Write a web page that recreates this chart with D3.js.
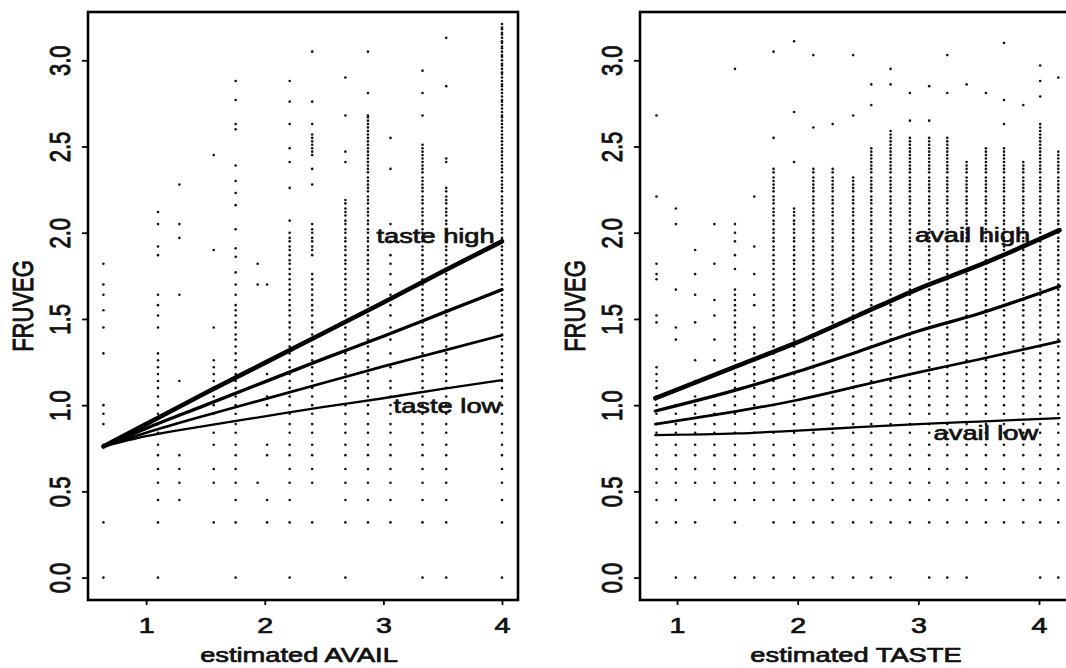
<!DOCTYPE html>
<html>
<head>
<meta charset="utf-8">
<script src="https://cdn.jsdelivr.net/npm/d3@7"></script>
<style>
  html, body { margin: 0; padding: 0; background: #fff; }
  svg { display: block; overflow: hidden; }
  text { font-family: "Liberation Sans", Arial, Helvetica, sans-serif; fill: #111; stroke: #111; stroke-width: 0.7px; }
</style>
</head>
<body>
<svg id="chart" width="1066" height="668"></svg>
<script>
// discrete FRUVEG levels the observations sit on
var fruvegLevels = [0, 0.32, 0.45, 0.55, 0.63, 0.71, 0.77, 0.84, 0.89, 0.95, 1.0, 1.05, 1.1, 1.14, 1.18,
  1.22, 1.26, 1.3, 1.34, 1.38, 1.41, 1.45, 1.48, 1.52, 1.55, 1.58, 1.61, 1.64, 1.67, 1.7, 1.73, 1.76,
  1.79, 1.82, 1.84, 1.87, 1.9, 1.92, 1.95, 1.97, 2.0, 2.02, 2.05, 2.07, 2.1, 2.12, 2.14, 2.17, 2.19,
  2.21, 2.24, 2.26, 2.28, 2.3, 2.32, 2.35, 2.37, 2.39, 2.41, 2.43, 2.45, 2.47, 2.49, 2.51, 2.53, 2.55,
  2.57, 2.59, 2.61, 2.63, 2.65, 2.67, 2.68, 2.7, 2.72, 2.74, 2.76, 2.77, 2.79, 2.81, 2.83, 2.85, 2.86,
  2.88, 2.9, 2.92, 2.93, 2.95, 2.97, 2.98, 3.0, 3.02, 3.03, 3.05, 3.07, 3.08, 3.1, 3.11, 3.13, 3.15,
  3.16, 3.18, 3.19, 3.21];

var yTicks = [0, 0.5, 1, 1.5, 2, 2.5, 3];
var xTicks = [1, 2, 3, 4];

// left panel: scatter columns (estimated AVAIL) and runs of FRUVEG levels
var availCols = [0.64, 1.10, 1.28, 1.57, 1.755, 1.94, 2.02, 2.21, 2.40, 2.68, 2.87, 3.06, 3.33, 3.53, 4.0];
var availRuns = [
  [[0], [0.32], [0.77], [0.89, 1.0], [1.3], [1.45], [1.55], [1.64], [1.7], [1.82]],
  [[0], [0.32, 1.3], [1.45], [1.52], [1.58], [1.64], [1.87], [1.92], [2.05], [2.12]],
  [[0.45, 0.71], [1.14], [1.64], [1.97], [2.05], [2.28]],
  [[0.32], [0.55, 0.63], [0.77, 0.84], [0.95, 1.26], [1.45], [1.9], [2.45]],
  [[0, 1.58], [1.64], [1.7], [1.77], [1.86], [1.91], [2.02], [2.16], [2.23], [2.3], [2.39], [2.6], [2.63], [2.77], [2.88]],
  [[0.55], [1.7], [1.82]],
  [[0.32], [0.45], [0.71, 0.77], [1.0, 1.05], [1.18], [1.7]],
  [[0, 2.0], [2.07], [2.26], [2.41], [2.49], [2.63], [2.76], [2.88]],
  [[0.32], [0.55, 1.76], [1.87, 2.05], [2.28], [2.37], [2.45, 2.57], [2.63], [2.76], [3.05]],
  [[0, 2.19], [2.41], [2.47], [2.68], [2.9]],
  [[0.32, 2.68], [2.81], [3.05]],
  [[0.32], [0.45], [0.55], [0.63], [0.71], [0.77], [0.84], [0.89], [0.95], [1.0], [1.05], [1.1], [1.14],
   [1.22], [1.3], [1.38], [1.45], [1.52], [1.58], [1.64], [1.7], [1.76], [1.82], [1.87], [1.95], [2.05], [2.37], [2.55]],
  [[0, 2.51], [2.68], [2.81], [2.94]],
  [[0, 2.26], [2.41], [2.43], [2.85], [3.13]],
  [[0, 3.21]]
];

// right panel: scatter columns (estimated TASTE)
var tasteCols = [0.83, 0.99, 1.15, 1.31, 1.48, 1.64, 1.80, 1.97, 2.13, 2.29, 2.46, 2.61, 2.77, 2.93,
  3.09, 3.24, 3.40, 3.56, 3.71, 3.87, 4.01, 4.16];
var tasteRuns = [
  [[0.32, 1.22], [1.48], [1.52], [1.73], [1.76], [1.82], [2.21], [2.68]],
  [[0], [0.32, 1.0], [1.38], [1.45], [1.67], [2.05], [2.14]],
  [[0], [0.32], [0.55, 1.05], [1.14], [1.26], [1.48], [1.64], [1.76], [1.9]],
  [[0.45, 1.05], [1.26], [1.38], [1.52], [1.61], [1.82], [2.05]],
  [[0, 1.67], [1.79], [1.87], [1.95], [2.0], [2.05], [2.95]],
  [[0], [0.45, 1.45], [1.58], [1.64], [1.76], [1.92], [2.21]],
  [[0, 2.37], [2.55], [3.05]],
  [[0, 2.14], [2.41], [2.7], [3.11]],
  [[0, 2.37], [2.61], [3.03]],
  [[0, 2.37], [2.63]],
  [[0, 2.32], [2.68], [3.03]],
  [[0, 2.5], [2.74], [2.86]],
  [[0, 2.59], [2.86], [2.95]],
  [[0.32, 2.55], [2.65], [2.81]],
  [[0, 2.55], [2.65], [2.85]],
  [[0, 2.55], [2.81], [3.03]],
  [[0, 2.41], [2.86]],
  [[0.32, 2.49], [2.81]],
  [[0.32, 2.49], [2.63], [2.77], [3.1]],
  [[0.32, 2.41], [2.74]],
  [[0, 2.63], [2.79], [2.88], [2.97]],
  [[0, 2.47], [2.9]]
];

// fitted lines, left panel (by TASTE level)
var availX = [0.64, 1.0, 1.5, 2.0, 2.5, 3.0, 3.5, 4.0];
var tasteHighLine = [0.76, 0.89, 1.07, 1.245, 1.42, 1.595, 1.775, 1.95];
var tasteMidHighLine = [0.76, 0.865, 1.0, 1.135, 1.27, 1.40, 1.535, 1.67];
var tasteMidLowLine = [0.76, 0.84, 0.94, 1.035, 1.13, 1.225, 1.315, 1.405];
var tasteLowLine = [0.76, 0.82, 0.88, 0.935, 0.99, 1.04, 1.095, 1.145];

// fitted lines, right panel (by AVAIL level)
var tasteX = [0.82, 1.5, 2.0, 2.5, 3.0, 3.5, 4.17];
var availHighLine = [1.04, 1.228, 1.365, 1.52, 1.675, 1.81, 2.015];
var availMidHighLine = [0.966, 1.09, 1.195, 1.31, 1.43, 1.53, 1.69];
var availMidLowLine = [0.89, 0.965, 1.03, 1.11, 1.19, 1.265, 1.37];
var availLowLine = [0.826, 0.836, 0.852, 0.872, 0.89, 0.905, 0.925];

var lineWidths = [4.6, 3.3, 2.7, 2.3];

var panels = [
  {
    xlim: [0.51, 4.135], left: 88, right: 518, xlab: "estimated AVAIL",
    cols: availCols, runs: availRuns, lx: availX,
    lines: [tasteHighLine, tasteMidHighLine, tasteMidLowLine, tasteLowLine],
    notes: [{ t: "taste high", x: 3.44, y: 1.942 }, { t: "taste low", x: 3.54, y: 0.954 }]
  },
  {
    xlim: [0.693, 4.34], left: 640, right: 1080, xlab: "estimated TASTE",
    cols: tasteCols, runs: tasteRuns, lx: tasteX,
    lines: [availHighLine, availMidHighLine, availMidLowLine, availLowLine],
    notes: [{ t: "avail high", x: 3.45, y: 1.947 }, { t: "avail low", x: 3.56, y: 0.798 }]
  }
];

var plotTop = 12, plotBottom = 600;
var ylim = [-0.13, 3.28];
var stretch = 1.3; // the scan is wider than tall

var svg = d3.select("#chart");

function dotsFor(cols, runs) {
  var out = [];
  cols.forEach(function(cx, i) {
    runs[i].forEach(function(r) {
      if (r.length === 1) out.push([cx, r[0]]);
      else fruvegLevels
        .filter(v => v >= r[0] - 0.005 && v <= r[1] + 0.005)
        .forEach(v => out.push([cx, v]));
    });
  });
  return out;
}

panels.forEach(function(p) {
  var x = d3.scaleLinear().domain(p.xlim).range([p.left, p.right]);
  var y = d3.scaleLinear().domain(ylim).range([plotBottom, plotTop]);
  var g = svg.append("g");

  // points
  g.selectAll("circle")
    .data(dotsFor(p.cols, p.runs))
    .enter()
      .append("circle")
      .attr("cx", d => x(d[0]))
      .attr("cy", d => y(d[1]))
      .attr("r", 1.3)
      .attr("fill", "#111");

  // fitted lines
  var line = d3.line()
    .x((d, i) => x(p.lx[i]))
    .y(d => y(d))
    .curve(d3.curveMonotoneX);

  p.lines.forEach(function(vals, k) {
    g.append("path")
      .attr("d", line(vals))
      .attr("fill", "none")
      .attr("stroke", "#000")
      .attr("stroke-width", lineWidths[k])
      .attr("stroke-linecap", "round");
  });

  // box
  g.append("rect")
    .attr("x", p.left).attr("y", plotTop)
    .attr("width", p.right - p.left).attr("height", plotBottom - plotTop)
    .attr("fill", "none").attr("stroke", "#000").attr("stroke-width", 2.6);

  // y axis
  var ya = g.append("g")
    .attr("transform", "translate(" + p.left + ",0)")
    .call(d3.axisLeft(y).tickValues(yTicks).tickFormat(d3.format(".1f")).tickSize(6).tickPadding(0));
  ya.select(".domain").remove();
  ya.selectAll(".tick line").attr("stroke", "#000").attr("stroke-width", 1.8);
  ya.selectAll(".tick text")
    .attr("x", null).attr("dy", "0.36em")
    .attr("text-anchor", "middle")
    .attr("font-size", 22)
    .attr("transform", "translate(-28,0) scale(" + stretch + ",1) rotate(-90)");

  // x axis
  var xa = g.append("g")
    .attr("transform", "translate(0," + plotBottom + ")")
    .call(d3.axisBottom(x).tickValues(xTicks).tickFormat(d3.format("d")).tickSize(5).tickPadding(0));
  xa.select(".domain").remove();
  xa.selectAll(".tick line").attr("stroke", "#000").attr("stroke-width", 1.8);
  xa.selectAll(".tick text")
    .attr("y", null).attr("dy", "0.36em")
    .attr("font-size", 22)
    .attr("transform", "translate(0,25) scale(" + stretch + ",1)");

  // axis titles
  g.append("text")
    .attr("text-anchor", "middle")
    .attr("font-size", 21)
    .attr("transform", "translate(" + ((p.left + p.right) / 2 - 4) + ",662) scale(" + stretch + ",1)")
    .text(p.xlab);

  g.append("text")
    .attr("text-anchor", "middle")
    .attr("dy", "0.36em")
    .attr("font-size", 22)
    .attr("transform", "translate(" + (p.left - 65) + "," + ((plotTop + plotBottom) / 2) + ") scale(" + stretch + ",1) rotate(-90)")
    .text("FRUVEG");

  // line labels
  p.notes.forEach(function(n) {
    g.append("text")
      .attr("text-anchor", "middle")
      .attr("font-size", 21)
      .attr("transform", "translate(" + x(n.x) + "," + y(n.y) + ") scale(" + stretch + ",1)")
      .text(n.t);
  });
});
</script>
</body>
</html>
